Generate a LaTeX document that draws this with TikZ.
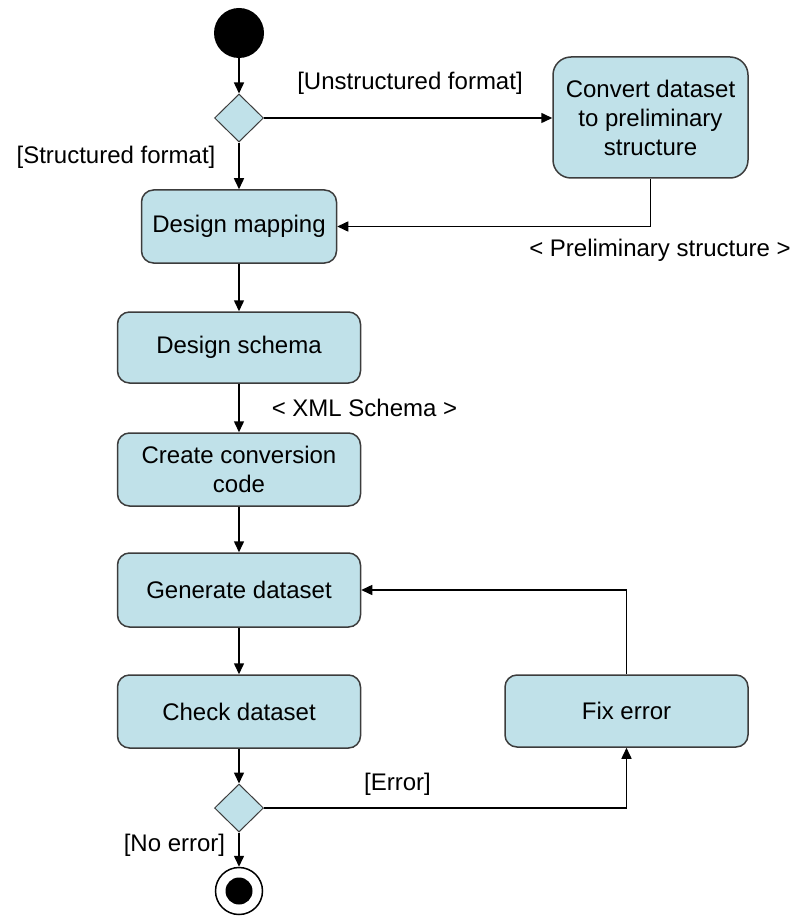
\documentclass[tikz,border=0pt]{standalone}
\usepackage{fontspec}
\setmainfont{Liberation Sans}
\usetikzlibrary{shapes.geometric,arrows.meta}
\definecolor{actfill}{RGB}{192,225,233}
\definecolor{actdraw}{RGB}{60,60,60}
\begin{document}
\begin{tikzpicture}[x=1pt,y=-1pt,
  txt/.style={font=\fontsize{24}{29}\selectfont},
  act/.style={draw=actdraw,line width=1.5pt,fill=actfill,rounded corners=12pt,
    align=center,inner sep=0pt,txt},
  dec/.style={diamond,draw=actdraw,line width=1pt,fill=actfill,inner sep=0pt,
    minimum width=49pt,minimum height=48pt},
  lbl/.style={inner sep=0pt,txt},
  arr/.style={line width=1.5pt,-{Triangle[length=11pt,width=10pt]}}
]
\useasboundingbox (0,0) rectangle (801,917);

\node[circle,fill=black,minimum size=50pt,inner sep=0pt] (start) at (239,33) {};
\node[dec] (d1) at (239,118) {};
\node[act,minimum width=195pt,minimum height=73pt] (dm) at (239,226.5) {Design mapping};
\node[act,minimum width=195pt,minimum height=121pt,rounded corners=18pt] (conv) at (650.5,117.5)
  {Convert dataset\\to preliminary\\structure};
\node[act,minimum width=243pt,minimum height=71pt] (ds) at (239,347.5) {Design schema};
\node[act,minimum width=243pt,minimum height=73pt] (cc) at (239,469.5) {Create conversion\\code};
\node[act,minimum width=243pt,minimum height=74pt] (gd) at (239,590) {Generate dataset};
\node[act,minimum width=243pt,minimum height=73pt] (ck) at (239,711.5) {Check dataset};
\node[act,minimum width=243pt,minimum height=72pt] (fx) at (626.5,711) {Fix error};
\node[dec] (d2) at (239,808) {};
\node[circle,draw=black,line width=1.5pt,fill=white,minimum size=47pt,inner sep=0pt] (end) at (239,891) {};
\node[circle,fill=black,minimum size=27pt,inner sep=0pt] (endin) at (end.center) {};

\draw[arr] (start) -- (d1);
\draw[arr] (d1.east) -- (d1.east -| conv.west);
\draw[arr] (d1) -- (dm);
\draw[arr] (conv.south) |- (dm.east);
\draw[arr] (dm) -- (ds);
\draw[arr] (ds) -- (cc);
\draw[arr] (cc) -- (gd);
\draw[arr] (gd) -- (ck);
\draw[arr] (ck) -- (d2);
\draw[arr] (d2) -- (end);
\draw[arr] (fx.north) |- (gd.east);
\draw[arr] (d2.east) -| (fx.south);

\node[lbl] (l1) at (410,83) {[Unstructured format]};
\node[lbl] (l2) at (116,157) {[Structured format]};
\node[lbl] (l3) at (660,250) {< Preliminary structure >};
\node[lbl] (l4) at (364.5,408) {< XML Schema >};
\node[lbl] (l5) at (397.5,784) {[Error]};
\node[lbl] (l6) at (174.5,845) {[No error]};
\end{tikzpicture}
\end{document}
